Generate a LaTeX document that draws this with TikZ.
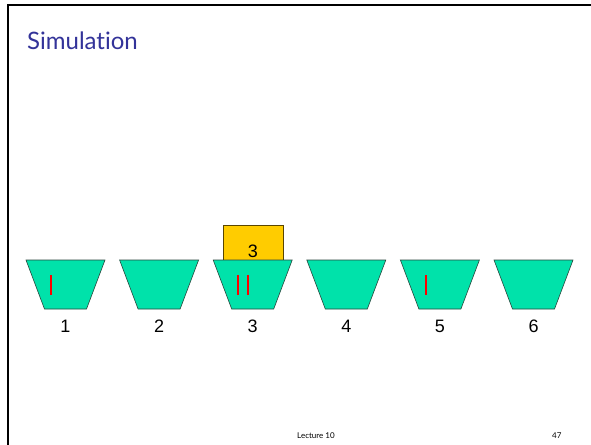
\documentclass[tikz,border=0pt]{standalone}
\usepackage{fontspec}
\setmainfont{Liberation Sans}
\newfontfamily\gillfont[Ligatures={NoCommon}]{Lato}
\definecolor{bucket}{RGB}{0,226,170}
\definecolor{bucketedge}{RGB}{40,70,60}
\definecolor{boxfill}{RGB}{255,204,0}
\definecolor{boxedge}{RGB}{90,70,0}
\definecolor{titleblue}{RGB}{51,51,153}
\tikzset{
  bucketshape/.style={fill=bucket,draw=bucketedge,line width=0.6pt},
  numlabel/.style={font=\fontsize{18}{20}\selectfont,inner sep=0pt},
  redmark/.style={draw=red,line width=1.6pt},
  cardbox/.style={fill=boxfill,draw=boxedge,line width=0.6pt},
  footer/.style={anchor=base west,inner sep=0pt,font=\gillfont\fontsize{8}{9}\selectfont}
}
\begin{document}
\begin{tikzpicture}[x=1pt,y=-1pt]
\useasboundingbox (0,0) rectangle (591,444);
\fill[white] (0,0) rectangle (591,444);
\draw[line width=2.8pt] (8,460) -- (8,5) -- (600,5);
\node[anchor=base west,inner sep=0pt,text=titleblue,font=\gillfont\fontsize{24}{28}\selectfont] (title) at (27,50) {Simulation};
% yellow card
\draw[cardbox] (223,225) rectangle (283,260);
\node[numlabel] (card) at (253,251.5) {3};
% buckets
\foreach \i in {1,...,6}{
  \pgfmathsetmacro{\cx}{65.5+93.6*(\i-1)}
  \draw[bucketshape] (\cx-39.5,260) -- (\cx+39.5,260) -- (\cx+21,309) -- (\cx-21,309) -- cycle;
  \node[numlabel] (lab\i) at (\cx,326.5) {\i};
}
% red marks
\draw[redmark] (51,275) -- (51,295);
\draw[redmark] (238,275) -- (238,295);
\draw[redmark] (248,275) -- (248,295);
\draw[redmark] (426,275) -- (426,295);
% footer
\node[footer] (lect) at (297,438) {Lecture 10};
\node[footer] (page) at (552,438) {47};
\end{tikzpicture}
\end{document}
